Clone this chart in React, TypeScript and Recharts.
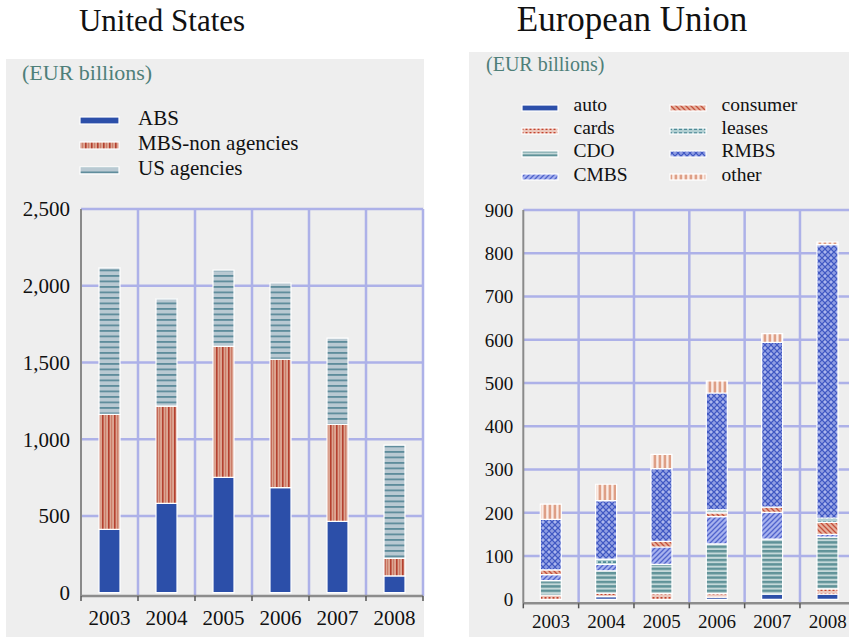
import React from 'react';
import { BarChart, Bar, XAxis, YAxis, CartesianGrid, Legend } from 'recharts';

const FONT = '"Liberation Serif", "Times New Roman", Times, serif';

// ---------- data ----------
const years = ['2003', '2004', '2005', '2006', '2007', '2008'];

// United States (EUR billions)
const usABS = [413, 582, 752, 684, 465, 109];
const usMBS = [749, 634, 853, 837, 632, 115];
const usAgencies = [955, 699, 497, 497, 562, 738];
const usTicks = [0, 500, 1000, 1500, 2000, 2500];
const usGridValues = [500, 1000, 1500, 2000, 2500];

// European Union (EUR billions)
const euAuto = [0, 6, 0, 5, 12, 12];
const euCards = [10, 8, 13, 8, 0, 12];
const euCDO = [33, 52, 68, 115, 127, 120];
const euCMBS = [14, 15, 40, 63, 62, 6];
const euConsumer = [11, 0, 13, 9, 12, 28];
const euLeases = [0, 12, 0, 7, 0, 10];
const euRMBS = [117, 135, 168, 270, 381, 632];
const euOther = [35, 38, 33, 28, 20, 6];
const euTicks = [0, 100, 200, 300, 400, 500, 600, 700, 800, 900];
const euGridValues = [100, 200, 300, 400, 500, 600, 700, 800, 900];

const usSeries = [
  { key: 'abs', name: 'ABS', values: usABS, fill: '#2c4fa9' },
  { key: 'mbs', name: 'MBS-non agencies', values: usMBS, fill: 'url(#pMBS)' },
  { key: 'agencies', name: 'US agencies', values: usAgencies, fill: 'url(#pAG)' },
];

const euSeries = [
  { key: 'auto', name: 'auto', values: euAuto, fill: '#2c4fa9' },
  { key: 'cards', name: 'cards', values: euCards, fill: 'url(#pCards)' },
  { key: 'cdo', name: 'CDO', values: euCDO, fill: 'url(#pCDO)' },
  { key: 'cmbs', name: 'CMBS', values: euCMBS, fill: 'url(#pCMBS)' },
  { key: 'consumer', name: 'consumer', values: euConsumer, fill: 'url(#pConsumer)' },
  { key: 'leases', name: 'leases', values: euLeases, fill: 'url(#pLeases)' },
  { key: 'rmbs', name: 'RMBS', values: euRMBS, fill: 'url(#pRMBS)' },
  { key: 'other', name: 'other', values: euOther, fill: 'url(#pOther)' },
];

const buildRows = (series: { key: string; values: number[] }[]) =>
  years.map((y, i) => {
    const row: Record<string, any> = { year: y };
    series.forEach((s) => {
      row[s.key] = s.values[i];
    });
    return row;
  });

const usData = buildRows(usSeries);
const euData = buildRows(euSeries);

const GRID = '#adb1e8';
const PANEL = '#eeeeee';

const patternDefs = (
  <defs>
    <pattern id="pMBS" width="6" height="6" patternUnits="userSpaceOnUse">
      <rect width="6" height="6" fill="#dca592" />
      <rect x="0" y="0" width="1.6" height="6" fill="#b4402f" />
      <rect x="3.2" y="0" width="0.9" height="6" fill="#c9735f" />
    </pattern>
    <pattern id="pAG" width="6" height="5.5" patternUnits="userSpaceOnUse">
      <rect width="6" height="5.5" fill="#b9c9d2" />
      <rect x="0" y="0" width="6" height="1.8" fill="#5e8c9b" />
    </pattern>
    <pattern id="pCDO" width="6" height="4.4" patternUnits="userSpaceOnUse">
      <rect width="6" height="4.4" fill="#c4d8d9" />
      <rect x="0" y="0" width="6" height="2.4" fill="#5f9298" />
    </pattern>
    <pattern id="pCards" width="4" height="4" patternUnits="userSpaceOnUse">
      <rect width="4" height="4" fill="#ecc8bd" />
      <rect x="0.5" y="1" width="2" height="2" fill="#c2442f" />
    </pattern>
    <pattern id="pCMBS" width="5" height="5" patternUnits="userSpaceOnUse">
      <rect width="5" height="5" fill="#a7b2ee" />
      <path d="M-1,6 L6,-1 M-1,1 L1,-1 M4,6 L6,4" stroke="#5063cc" strokeWidth="1.3" />
    </pattern>
    <pattern id="pConsumer" width="5" height="5" patternUnits="userSpaceOnUse">
      <rect width="5" height="5" fill="#e6b19e" />
      <path d="M-1,-1 L6,6 M4,-1 L6,1 M-1,4 L1,6" stroke="#c4503c" strokeWidth="1.3" />
    </pattern>
    <pattern id="pLeases" width="5" height="4" patternUnits="userSpaceOnUse">
      <rect width="5" height="4" fill="#b3d0d3" />
      <rect x="0" y="1.2" width="3" height="1.8" fill="#4f8b97" />
    </pattern>
    <pattern id="pRMBS" width="6" height="6" patternUnits="userSpaceOnUse">
      <rect width="6" height="6" fill="#8f9de2" />
      <path d="M0,0 L6,6 M6,0 L0,6" stroke="#3d55c2" strokeWidth="1.1" />
      <circle cx="3" cy="0" r="1.1" fill="#b3bdf0" />
      <circle cx="3" cy="6" r="1.1" fill="#b3bdf0" />
    </pattern>
    <pattern id="pOther" width="5" height="5" patternUnits="userSpaceOnUse">
      <rect width="5" height="5" fill="#fbece6" />
      <rect x="0.6" y="0" width="2.6" height="5" fill="#de9f86" />
    </pattern>
  </defs>
);

const Swatch = ({ fill, w, h }: { fill: string; w: number; h: number }) => (
  <svg width={w + 2} height={h + 2} style={{ display: 'block' }}>
    <rect x={1} y={1} width={w} height={h} fill={fill} stroke="#fff" strokeWidth={1.2} />
  </svg>
);

const UsLegend = () => (
  <div style={{ position: 'relative', width: 260, height: 80, fontFamily: FONT, fontSize: 21, color: '#111' }}>
    {usSeries.map((s, i) => (
      <div key={s.key} style={{ position: 'absolute', left: 0, top: i * 25, height: 25, width: 260 }}>
        <div style={{ position: 'absolute', left: 0, top: 10 }}>
          <Swatch fill={s.fill} w={39} h={7} />
        </div>
        <div style={{ position: 'absolute', left: 59, top: 0, lineHeight: '25px', whiteSpace: 'nowrap' }}>{s.name}</div>
      </div>
    ))}
  </div>
);

const EuLegend = () => (
  <div style={{ position: 'relative', width: 300, height: 95, fontFamily: FONT, fontSize: 19.5, color: '#111' }}>
    {euSeries.map((s, i) => {
      const col = Math.floor(i / 4);
      const row = i % 4;
      return (
        <div key={s.key} style={{ position: 'absolute', left: col * 148, top: row * 23.2, height: 23, width: 148 }}>
          <div style={{ position: 'absolute', left: 0, top: 10.5 }}>
            <Swatch fill={s.fill} w={36} h={6} />
          </div>
          <div style={{ position: 'absolute', left: 53, top: 0, lineHeight: '23px', whiteSpace: 'nowrap' }}>{s.name}</div>
        </div>
      );
    })}
  </div>
);

const bandLines = (props: any) => {
  const off = props && props.offset;
  if (!off) return [];
  return years.map((_, i) => off.left + (off.width * (i + 1)) / years.length);
};

// Year label plus a small boundary tick hanging from the axis line at each band edge.
const YearTick = (props: any) => {
  const { x, y, payload, index, gap, fs } = props;
  const half = payload && typeof payload.offset === 'number' ? payload.offset : 0;
  const top = y - gap;
  return (
    <g>
      {half > 0 && (
        <line x1={x - half} x2={x - half} y1={top} y2={top + 5} stroke="#555" strokeWidth={1.5} />
      )}
      {half > 0 && index === years.length - 1 && (
        <line x1={x + half} x2={x + half} y1={top} y2={top + 5} stroke="#555" strokeWidth={1.5} />
      )}
      <text x={x} y={y} dy="0.71em" textAnchor="middle" fill="#111" fontSize={fs} fontFamily={FONT}>
        {payload ? payload.value : ''}
      </text>
    </g>
  );
};

export default function App() {
  return (
    <div
      style={{
        position: 'absolute',
        left: 0,
        top: 0,
        width: 849,
        height: 637,
        overflow: 'hidden',
        background: '#ffffff',
        fontFamily: FONT,
      }}
    >
      {/* panels */}
      <div style={{ position: 'absolute', left: 6, top: 59, width: 418, height: 578, background: PANEL }} />
      <div style={{ position: 'absolute', left: 469, top: 52, width: 380, height: 585, background: PANEL }} />

      {/* United States */}
      <div style={{ position: 'absolute', left: 0, top: 0 }}>
        <BarChart width={440} height={637} data={usData} margin={{ top: 209, right: 17, bottom: 0, left: 6 }}>
          {patternDefs}
          <CartesianGrid
            stroke={GRID}
            strokeWidth={2.5}
            horizontalValues={usGridValues}
            verticalCoordinatesGenerator={bandLines}
          />
          <XAxis
            dataKey="year"
            axisLine={{ stroke: '#8c8c8c', strokeWidth: 2.5 }}
            tickLine={false}
            tickSize={0}
            tickMargin={14}
            height={41}
            interval={0}
            tick={<YearTick gap={14} fs={21} />}
          />
          <YAxis
            type="number"
            domain={[-21.5, 2500]}
            ticks={usTicks}
            allowDataOverflow
            tickFormatter={(v: number) => v.toLocaleString('en-US')}
            width={75}
            tickLine={false}
            tickSize={0}
            tickMargin={11}
            axisLine={{ stroke: '#8a8a8a', strokeWidth: 2 }}
            tick={{ fill: '#111', fontSize: 21, fontFamily: FONT }}
          />
          <Legend
            layout="vertical"
            align="center"
            verticalAlign="middle"
            content={() => <UsLegend />}
            wrapperStyle={{ position: 'absolute', left: 79, top: 106, width: 260, height: 80 }}
          />
          {usSeries.map((s) => (
            <Bar
              key={s.key}
              dataKey={s.key}
              name={s.name}
              stackId="us"
              fill={s.fill}
              stroke="#ffffff"
              strokeWidth={1.2}
              barSize={21}
              isAnimationActive={false}
            />
          ))}
        </BarChart>
      </div>

      {/* European Union */}
      <div style={{ position: 'absolute', left: 468, top: 0 }}>
        <BarChart width={400} height={637} data={euData} margin={{ top: 210, right: 12.7, bottom: 0, left: 0 }}>
          <CartesianGrid
            stroke={GRID}
            strokeWidth={2.5}
            horizontalValues={euGridValues}
            verticalCoordinatesGenerator={bandLines}
          />
          <XAxis
            dataKey="year"
            axisLine={{ stroke: '#8c8c8c', strokeWidth: 2.5 }}
            tickLine={false}
            tickSize={0}
            tickMargin={11}
            height={33.7}
            interval={0}
            tick={<YearTick gap={11} fs={19} />}
          />
          <YAxis
            type="number"
            domain={[-9.2, 900]}
            ticks={euTicks}
            allowDataOverflow
            width={55.3}
            tickLine={false}
            tickSize={0}
            tickMargin={10}
            axisLine={{ stroke: '#8a8a8a', strokeWidth: 2 }}
            tick={{ fill: '#111', fontSize: 19, fontFamily: FONT }}
          />
          <Legend
            layout="vertical"
            align="center"
            verticalAlign="middle"
            content={() => <EuLegend />}
            wrapperStyle={{ position: 'absolute', left: 52.5, top: 93, width: 300, height: 95 }}
          />
          {euSeries.map((s) => (
            <Bar
              key={s.key}
              dataKey={s.key}
              name={s.name}
              stackId="eu"
              fill={s.fill}
              stroke="#ffffff"
              strokeWidth={1.2}
              barSize={21}
              isAnimationActive={false}
            />
          ))}
        </BarChart>
      </div>

      {/* titles and units */}
      <svg width={849} height={637} style={{ position: 'absolute', left: 0, top: 0, pointerEvents: 'none' }}>
        <text x={162} y={31} textAnchor="middle" fontFamily={FONT} fontSize={31} fill="#111">
          United States
        </text>
        <text x={632} y={31} textAnchor="middle" fontFamily={FONT} fontSize={35} fill="#111">
          European Union
        </text>
        <text x={22} y={80} fontFamily={FONT} fontSize={22} fill="#4e7f79">
          (EUR billions)
        </text>
        <text x={486} y={71} fontFamily={FONT} fontSize={20} fill="#4e7f79">
          (EUR billions)
        </text>
      </svg>
    </div>
  );
}
